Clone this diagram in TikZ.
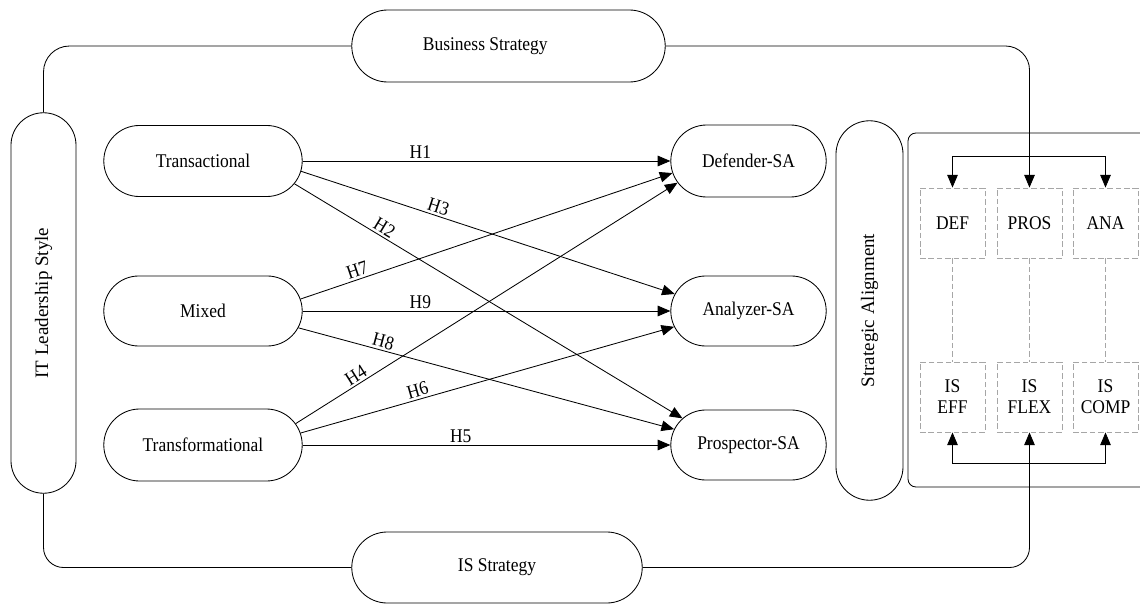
\documentclass[tikz,border=0pt]{standalone}
\usepackage{fontspec}
\setmainfont{Liberation Serif}[FakeStretch=0.9]
\newfontfamily\uprfont{Liberation Serif}
\usetikzlibrary{arrows.meta,shapes.misc}

\tikzset{
  >={Triangle[length=9pt,width=7.5pt]},
  pill/.style={draw, rounded rectangle, inner sep=2pt},
  upright/.style={pill, rotate=90, font=\uprfont\fontsize{13.5}{16}\selectfont},
  dbox/.style={draw=gray!70, dash pattern=on 4pt off 2pt, minimum width=1.625cm,
    minimum height=1.75cm, inner sep=1pt, align=center},
  hl/.style={above, inner sep=1.5pt},
}

\begin{document}
\begin{tikzpicture}[x=0.025cm,y=-0.025cm,line width=0.6pt,font=\fontsize{13.8}{15}\selectfont]
        \useasboundingbox (0,0) rectangle (1140,605);
        % outer ring
        \node[upright, minimum width=9.65cm, minimum height=1.625cm] (itl) at (43.5,303) {IT Leadership Style};
        \node[upright, minimum width=9.625cm, minimum height=1.675cm] (sa) at (869.5,310.5) {Strategic Alignment};
        \node[pill, minimum width=7.975cm, minimum height=1.8cm] (bs) at (508.5,46) {Business Strategy\hspace*{33pt}};
        \node[pill, minimum width=7.4cm, minimum height=1.775cm] (iss) at (497,567.5) {IS Strategy};
        % leadership styles and alignment types
        \node[pill, minimum width=5.1cm, minimum height=1.775cm] (tra) at (203,161) {Transactional};
        \node[pill, minimum width=5.1cm, minimum height=1.75cm] (mix) at (203,311) {Mixed};
        \node[pill, minimum width=5.1cm, minimum height=1.8cm] (tfm) at (203,445) {Transformational};
        \node[pill, minimum width=4.025cm, minimum height=1.8cm] (def) at (748.5,161) {Defender-SA};
        \node[pill, minimum width=4.025cm, minimum height=1.75cm] (ana) at (748.5,311) {Analyzer-SA};
        \node[pill, minimum width=4.025cm, minimum height=1.75cm] (pro) at (748.5,445) {Prospector-SA};
        % alignment panel
        \draw[rounded corners=0.2cm] (1150,133) -| (908,487) -- (1150,487);
        \node[dbox] (dfx) at (952.5,223) {DEF};
        \node[dbox] (prx) at (1029.5,223) {PROS};
        \node[dbox] (anx) at (1105.5,223) {ANA};
        \node[dbox] (eff) at (952.5,397) {IS\\EFF};
        \node[dbox] (flx) at (1029.5,397) {IS\\FLEX};
        \node[dbox] (cmp) at (1105.5,397) {IS\\COMP};
        \foreach \a/\b in {dfx/eff,prx/flx,anx/cmp}
            \draw[gray!70, dash pattern=on 4pt off 2pt] (\a) -- (\b);
        \draw[<->] (dfx.north) -- ++(0,-31) -| (anx.north);
        \draw[<->] (eff.south) -- ++(0,31) -| (cmp.south);
        % ring lines
        \draw[rounded corners=0.65cm] (itl.east) |- (bs.west);
        \draw[->, rounded corners=0.6cm] (bs.east) -| (prx.north);
        \draw[rounded corners=0.5cm] (itl.west) |- (iss.west);
        \draw[->, rounded corners=0.5cm] (iss.east) -| (flx.south);
        % hypotheses
        \draw[->] (tra.east) -- node[hl, pos=0.32] {H1} (def.west);
        \draw[->] (tra.-6) -- node[hl, sloped, pos=0.36] {H3} (ana.167);
        \draw[->] (tra.-14) -- node[hl, sloped, pos=0.22] {H2} (pro.158);
        \draw[->] (mix.7) -- node[hl, sloped, pos=0.16] {H7} (def.189);
        \draw[->] (mix.east) -- node[hl, pos=0.32] {H9} (ana.west);
        \draw[->] (mix.-10) -- node[hl, sloped, pos=0.22] {H8} (pro.168);
        \draw[->] (tfm.13) -- node[hl, sloped, pos=0.17] {H4} (def.197);
        \draw[->] (tfm.7) -- node[hl, sloped, pos=0.32] {H6} (ana.192);
        \draw[->] (tfm.east) -- node[hl, pos=0.43] {H5} (pro.west);
    \end{tikzpicture}
\end{document}
